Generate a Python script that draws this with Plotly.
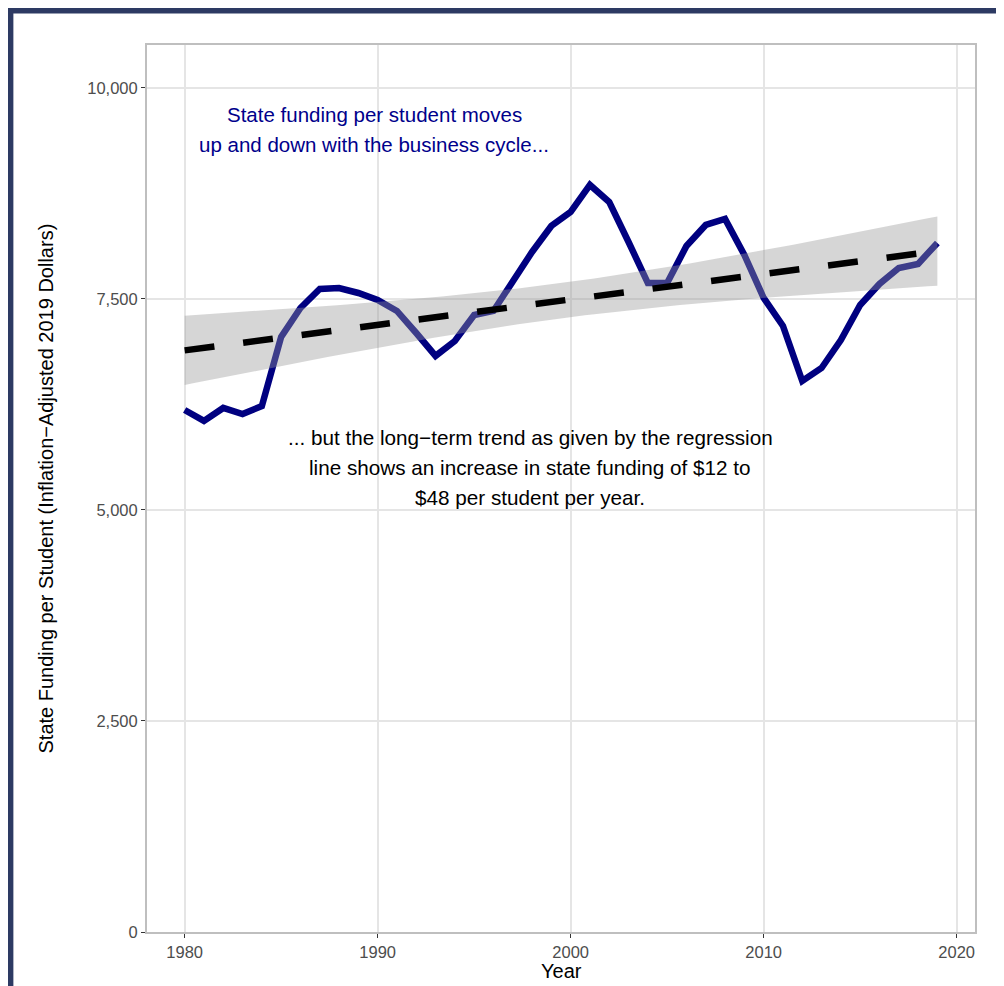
import numpy as np
import plotly.graph_objects as go

years = list(range(1980, 2020))
funding = [6185, 6055, 6209, 6137, 6232, 7050, 7393, 7618, 7630, 7571,
           7488, 7358, 7097, 6825, 7002, 7310, 7358, 7701, 8057, 8365,
           8531, 8851, 8649, 8175, 7689, 7689, 8128, 8377, 8448, 8021,
           7512, 7180, 6528, 6682, 7014, 7429, 7678, 7867, 7915, 8164]

x_ticks = [1980, 1990, 2000, 2010, 2020]
y_ticks = [0, 2500, 5000, 7500, 10000]

# linear regression with 95% confidence band (as geom_smooth(method="lm"))
x = np.array(years, dtype=float)
y = np.array(funding, dtype=float)
n = len(x)
b1, b0 = np.polyfit(x, y, 1)
resid = y - (b0 + b1 * x)
s = np.sqrt(np.sum(resid ** 2) / (n - 2))
xbar = x.mean()
sxx = np.sum((x - xbar) ** 2)
tq = 2.0244  # t(0.975, 38)
xg = np.linspace(x.min(), x.max(), 80)
yg = b0 + b1 * xg
se = s * np.sqrt(1.0 / n + (xg - xbar) ** 2 / sxx)
upper = yg + tq * se
lower = yg - tq * se

fig = go.Figure()
fig.add_trace(go.Scatter(x=years, y=funding, mode="lines",
                         line=dict(color="#000080", width=6.5),
                         hoverinfo="skip", showlegend=False))
fig.add_trace(go.Scatter(x=np.concatenate([xg, xg[::-1]]),
                         y=np.concatenate([upper, lower[::-1]]),
                         fill="toself", fillcolor="rgba(153,153,153,0.4)",
                         line=dict(width=0), mode="lines",
                         hoverinfo="skip", showlegend=False))
fig.add_trace(go.Scatter(x=xg, y=yg, mode="lines",
                         line=dict(color="black", width=6.5, dash="30px,29px"),
                         hoverinfo="skip", showlegend=False))

blue_lines = ["State funding per student moves",
              "up and down with the business cycle..."]
blue_y = [9684, 9328]
for t, yy in zip(blue_lines, blue_y):
    fig.add_annotation(x=1989.83, y=yy, text=t, showarrow=False,
                       xanchor="center", yanchor="middle",
                       font=dict(size=20.5, color="#00008B"))

black_lines = ["... but the long\u2212term trend as given by the regression",
               "line shows an increase in state funding of $12 to",
               "$48 per student per year."]
black_y = [5855, 5500, 5144]
for t, yy in zip(black_lines, black_y):
    fig.add_annotation(x=1997.9, y=yy, text=t, showarrow=False,
                       xanchor="center", yanchor="middle",
                       font=dict(size=20.7, color="black"))

# axis titles
fig.add_annotation(xref="paper", yref="paper", x=0.5, y=-0.0445,
                   text="Year", showarrow=False,
                   xanchor="center", yanchor="middle",
                   font=dict(size=20, color="black"))
fig.add_annotation(xref="paper", yref="paper", x=-0.122, y=0.5,
                   text="State Funding per Student (Inflation\u2212Adjusted 2019 Dollars)",
                   textangle=-90, showarrow=False,
                   xanchor="center", yanchor="middle",
                   font=dict(size=20, color="black"))

# outer dark border (left and top visible)
fig.add_shape(type="rect", xref="paper", yref="paper",
              x0=-0.165, x1=1.06, y0=-0.09, y1=1.039,
              line=dict(color="#2d3a63", width=6), layer="below")

fig.update_layout(
    width=988, height=986,
    margin=dict(l=139, r=21, t=37, b=62),
    paper_bgcolor="white", plot_bgcolor="white",
    font=dict(family="Liberation Sans, Arial, sans-serif", color="black"),
    xaxis=dict(range=[1978.05, 2020.95], tickvals=x_ticks, automargin=False,
               ticks="outside", ticklen=4, tickcolor="#333333", tickwidth=1,
               tickfont=dict(size=16.5, color="#4d4d4d"),
               showgrid=True, gridcolor="#e5e5e5", gridwidth=1.5,
               showline=True, linecolor="#bfbfbf", linewidth=2, mirror=True,
               zeroline=False),
    yaxis=dict(range=[0, 10509], tickvals=y_ticks, tickformat=",", automargin=False,
               ticks="outside", ticklen=4, tickcolor="#333333", tickwidth=1,
               tickfont=dict(size=16.5, color="#4d4d4d"),
               showgrid=True, gridcolor="#e5e5e5", gridwidth=1.5,
               showline=True, linecolor="#bfbfbf", linewidth=2, mirror=True,
               zeroline=False),
)

fig.write_html("out.html")
